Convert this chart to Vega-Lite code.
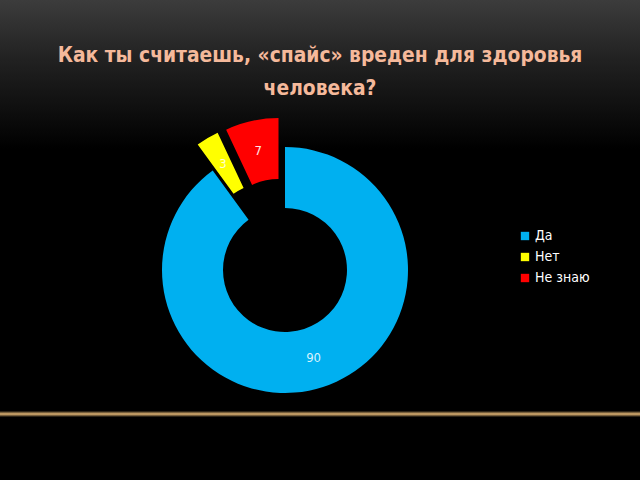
{
  "$schema": "https://vega.github.io/schema/vega-lite/v6.json",
  "width": 640,
  "height": 480,
  "autosize": {"type": "none"},
  "padding": 0,
  "background": "#000000",
  "config": {"view": {"stroke": null}},
  "title": {
    "text": ["Как ты считаешь, «спайс» вреден для здоровья", "человека?"],
    "color": "#f5b99b",
    "font": "'Liberation Sans Narrow', 'DejaVu Sans Condensed', 'Roboto Condensed', sans-serif",
    "fontSize": 20.8,
    "fontWeight": "bold",
    "anchor": "middle",
    "frame": "group",
    "lineHeight": 33,
    "offset": -100
  },
  "data": {
    "values": [
      {"answer": "Да", "value": 90, "idx": 1},
      {"answer": "Нет", "value": 3, "idx": 2},
      {"answer": "Не знаю", "value": 7, "idx": 3}
    ]
  },
  "layer": [
    {
      "data": {"values": [{}]},
      "mark": {
        "type": "rect",
        "fill": {
          "gradient": "linear",
          "x1": 0, "y1": 0, "x2": 0, "y2": 1,
          "stops": [
            {"offset": 0, "color": "#3c3c3c"},
            {"offset": 0.12, "color": "#222222"},
            {"offset": 0.31, "color": "#000000"},
            {"offset": 0.856, "color": "#000000"},
            {"offset": 0.8625, "color": "#e0b474"},
            {"offset": 0.869, "color": "#000000"},
            {"offset": 1, "color": "#000000"}
          ]
        }
      },
      "encoding": {}
    },
    {
      "mark": {"type": "arc", "innerRadius": 62, "outerRadius": 123, "xOffset": -35, "yOffset": 30},
      "encoding": {
        "theta": {"field": "value", "type": "quantitative", "stack": true},
        "order": {"field": "idx", "type": "quantitative"},
        "color": {
          "field": "answer",
          "type": "nominal",
          "scale": {"domain": ["Да", "Нет", "Не знаю"], "range": ["#00b0f0", "#ffff00", "#ff0000"]},
          "legend": {
            "title": null,
            "orient": "none",
            "legendX": 518,
            "legendY": 229,
            "padding": 0,
            "symbolType": "square",
            "symbolSize": 70,
            "symbolStrokeWidth": 0,
            "symbolOpacity": 1,
            "labelColor": "#ffffff",
            "labelFont": "'Liberation Sans Narrow', 'DejaVu Sans Condensed', 'Roboto Condensed', sans-serif",
            "labelFontSize": 14,
            "labelOffset": 3,
            "rowPadding": 7
          }
        },
        "opacity": {"condition": {"test": "datum.answer == 'Да'", "value": 1}, "value": 0}
      }
    },
    {
      "mark": {"type": "arc", "innerRadius": 62, "outerRadius": 123, "xOffset": -50, "yOffset": 4},
      "encoding": {
        "theta": {"field": "value", "type": "quantitative", "stack": true},
        "order": {"field": "idx", "type": "quantitative"},
        "color": {"field": "answer", "type": "nominal"},
        "opacity": {"condition": {"test": "datum.answer == 'Нет'", "value": 1}, "value": 0}
      }
    },
    {
      "mark": {"type": "arc", "innerRadius": 62, "outerRadius": 123, "xOffset": -41.5, "yOffset": 1},
      "encoding": {
        "theta": {"field": "value", "type": "quantitative", "stack": true},
        "order": {"field": "idx", "type": "quantitative"},
        "color": {"field": "answer", "type": "nominal"},
        "opacity": {"condition": {"test": "datum.answer == 'Не знаю'", "value": 1}, "value": 0}
      }
    },
    {
      "mark": {"type": "text", "radius": 92.5, "xOffset": -35, "yOffset": 30, "font": "'Liberation Sans Narrow', 'DejaVu Sans Condensed', 'Roboto Condensed', sans-serif", "fontSize": 13, "fill": "#d8f3fd"},
      "encoding": {
        "theta": {"field": "value", "type": "quantitative", "stack": true},
        "order": {"field": "idx", "type": "quantitative"},
        "text": {"field": "value", "type": "quantitative"},
        "opacity": {"condition": {"test": "datum.answer == 'Да'", "value": 1}, "value": 0}
      }
    },
    {
      "mark": {"type": "text", "radius": 92.5, "xOffset": -50, "yOffset": 4, "font": "'Liberation Sans Narrow', 'DejaVu Sans Condensed', 'Roboto Condensed', sans-serif", "fontSize": 13, "fill": "#ffffd0"},
      "encoding": {
        "theta": {"field": "value", "type": "quantitative", "stack": true},
        "order": {"field": "idx", "type": "quantitative"},
        "text": {"field": "value", "type": "quantitative"},
        "opacity": {"condition": {"test": "datum.answer == 'Нет'", "value": 1}, "value": 0}
      }
    },
    {
      "mark": {"type": "text", "radius": 92.5, "xOffset": -41.5, "yOffset": 1, "font": "'Liberation Sans Narrow', 'DejaVu Sans Condensed', 'Roboto Condensed', sans-serif", "fontSize": 13, "fill": "#ffe6e6"},
      "encoding": {
        "theta": {"field": "value", "type": "quantitative", "stack": true},
        "order": {"field": "idx", "type": "quantitative"},
        "text": {"field": "value", "type": "quantitative"},
        "opacity": {"condition": {"test": "datum.answer == 'Не знаю'", "value": 1}, "value": 0}
      }
    }
  ]
}
